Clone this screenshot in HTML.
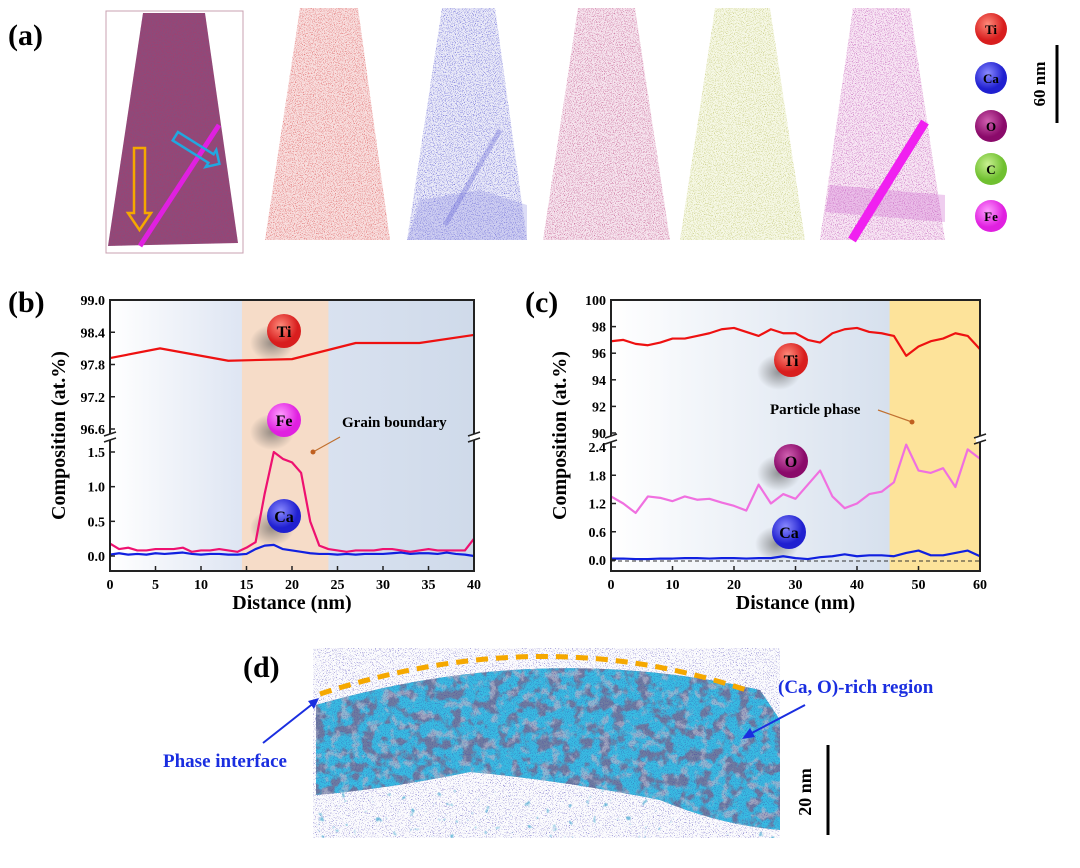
<!DOCTYPE html>
<html><head><meta charset="utf-8">
<style>
body{margin:0;background:#fff;width:1080px;height:863px;overflow:hidden;font-family:"Liberation Serif",serif;}
svg text{font-family:"Liberation Serif",serif;font-weight:bold;}
</style></head>
<body>
<svg width="1080" height="863" viewBox="0 0 1080 863">
<defs>
<filter id="speck" x="0" y="0" width="100%" height="100%">
<feTurbulence type="fractalNoise" baseFrequency="1.1" numOctaves="1" seed="3" result="t"/>
<feColorMatrix in="t" type="matrix" values="0 0 0 0 0  0 0 0 0 0  0 0 0 0 0  0 0 0 5 -2.6" result="a"/>
<feComposite in="SourceGraphic" in2="a" operator="in"/>
</filter>
<filter id="speck2" x="0" y="0" width="100%" height="100%">
<feTurbulence type="fractalNoise" baseFrequency="1.3" numOctaves="1" seed="11" result="t"/>
<feColorMatrix in="t" type="matrix" values="0 0 0 0 0  0 0 0 0 0  0 0 0 0 0  0 0 0 6 -3.6" result="a"/>
<feComposite in="SourceGraphic" in2="a" operator="in"/>
</filter>
<filter id="blot" x="0" y="0" width="100%" height="100%">
<feTurbulence type="fractalNoise" baseFrequency="0.08" numOctaves="3" seed="7" result="t"/>
<feColorMatrix in="t" type="matrix" values="0 0 0 0 0  0 0 0 0 0  0 0 0 0 0  0 0 0 6 -2.1" result="a"/>
<feComposite in="SourceGraphic" in2="a" operator="in"/>
</filter>
<filter id="blot2" x="0" y="0" width="100%" height="100%">
<feTurbulence type="fractalNoise" baseFrequency="0.1" numOctaves="3" seed="21" result="t"/>
<feColorMatrix in="t" type="matrix" values="0 0 0 0 0  0 0 0 0 0  0 0 0 0 0  0 0 0 6 -3.2" result="a"/>
<feComposite in="SourceGraphic" in2="a" operator="in"/>
</filter>
<filter id="blot3" x="0" y="0" width="100%" height="100%">
<feTurbulence type="fractalNoise" baseFrequency="0.12" numOctaves="2" seed="5" result="t"/>
<feColorMatrix in="t" type="matrix" values="0 0 0 0 0  0 0 0 0 0  0 0 0 0 0  0 0 0 8 -5.6" result="a"/>
<feComposite in="SourceGraphic" in2="a" operator="in"/>
</filter>
<radialGradient id="ti" cx="0.4" cy="0.35"><stop offset="0" stop-color="#ff8a7a"/><stop offset="1" stop-color="#d81e1e"/></radialGradient>
<radialGradient id="ca" cx="0.4" cy="0.35"><stop offset="0" stop-color="#8a8aff"/><stop offset="1" stop-color="#2020d0"/></radialGradient>
<radialGradient id="ox" cx="0.4" cy="0.35"><stop offset="0" stop-color="#d060b0"/><stop offset="1" stop-color="#8a0a6a"/></radialGradient>
<radialGradient id="cc" cx="0.4" cy="0.35"><stop offset="0" stop-color="#c8f090"/><stop offset="1" stop-color="#70c030"/></radialGradient>
<radialGradient id="fe" cx="0.4" cy="0.35"><stop offset="0" stop-color="#ff9cff"/><stop offset="1" stop-color="#e020e0"/></radialGradient>
<radialGradient id="sh"><stop offset="0" stop-color="#555" stop-opacity="0.6"/><stop offset="1" stop-color="#555" stop-opacity="0"/></radialGradient>
<linearGradient id="bgb" x1="0" x2="1"><stop offset="0" stop-color="#ffffff"/><stop offset="0.35" stop-color="#dfe6f3"/><stop offset="1" stop-color="#cfdaea"/></linearGradient>
<linearGradient id="bgc" x1="0" x2="1"><stop offset="0" stop-color="#ffffff"/><stop offset="1" stop-color="#c9d6e8"/></linearGradient>
</defs>

<!-- Panel a -->
<text x="8" y="45" font-size="30">(a)</text>
<rect x="106" y="11" width="137" height="242" fill="none" stroke="#c9a0b0" stroke-width="1"/>
<g>
<polygon points="143,13 205,13 238,243 108,246" fill="#8e4a7a"/>
<polygon points="143,13 205,13 238,243 108,246" fill="#c03060" opacity="0.5" filter="url(#speck)"/>
<polygon points="300,8 358,8 390,240 265,240" fill="#f8dede"/>
<polygon points="300,8 358,8 390,240 265,240" fill="#e07070" filter="url(#speck)"/>
<polygon points="442,8 495,8 527,240 407,240" fill="#ebebf8"/>
<polygon points="442,8 495,8 527,240 407,240" fill="#7070d8" filter="url(#speck)"/>
<polygon points="420,200 480,190 527,205 527,240 407,240" fill="#8c8ce0" opacity="0.3"/>
<line x1="500" y1="130" x2="445" y2="225" stroke="#6a6ad8" stroke-width="5" opacity="0.35"/>
<polygon points="578,8 635,8 670,240 543,240" fill="#f6e4ee"/>
<polygon points="578,8 635,8 670,240 543,240" fill="#c86a98" filter="url(#speck)"/>
<polygon points="715,8 770,8 805,240 680,240" fill="#f6f8e6"/>
<polygon points="715,8 770,8 805,240 680,240" fill="#c8cc80" filter="url(#speck)"/>
<polygon points="853,8 910,8 945,240 820,240" fill="#f8e6f4"/>
<polygon points="853,8 910,8 945,240 820,240" fill="#c870c0" filter="url(#speck)"/>
<polygon points="830,185 945,195 945,222 825,212" fill="#d070d0" opacity="0.35"/>
<line x1="925" y1="122" x2="852" y2="240" stroke="#f020f0" stroke-width="9"/>
<line x1="219" y1="125" x2="140" y2="246" stroke="#e020e0" stroke-width="5"/>
<g fill="none" stroke="#f5a800" stroke-width="2.5">
<polygon points="134,148 145,148 145,213 151,213 139.5,230 128,213 134,213"/></g>
<g fill="none" stroke="#20a8e0" stroke-width="2.5" transform="translate(178,132) rotate(32)">
<polygon points="0,0 42,0 42,-5 52,5 42,15 42,10 0,10"/></g>
</g>
<g font-size="13" text-anchor="middle">
<circle cx="991" cy="29" r="16" fill="url(#ti)"/><text x="991" y="34">Ti</text>
<circle cx="991" cy="78" r="16" fill="url(#ca)"/><text x="991" y="83">Ca</text>
<circle cx="991" cy="126" r="16" fill="url(#ox)"/><text x="991" y="131">O</text>
<circle cx="991" cy="169" r="16" fill="url(#cc)"/><text x="991" y="174">C</text>
<circle cx="991" cy="216" r="16" fill="url(#fe)"/><text x="991" y="221">Fe</text>
</g>
<line x1="1057" y1="45" x2="1057" y2="123" stroke="#000" stroke-width="3"/>
<text transform="translate(1045,84) rotate(-90)" font-size="17" text-anchor="middle">60 nm</text>

<!-- Panel b -->
<text x="8" y="312" font-size="30">(b)</text>
<g id="chartb"></g>
<!-- Panel c -->
<text x="525" y="312" font-size="30">(c)</text>
<g id="chartc"></g>

<!-- Panel d -->
<text x="243" y="677" font-size="30">(d)</text>
<g>
<rect x="313" y="648" width="467" height="190" fill="#fbfbfd"/>
<rect x="313" y="648" width="467" height="190" fill="#3a30b0" filter="url(#speck2)"/>
<path d="M316,705 Q540,640 760,690 L780,720 L780,830 Q720,825 660,800 Q560,780 470,772 Q380,790 316,795 Z" fill="#6e7ca0"/>
<path d="M316,705 Q540,640 760,690 L780,720 L780,830 Q720,825 660,800 Q560,780 470,772 Q380,790 316,795 Z" fill="#38bce2" filter="url(#blot)"/>
<path d="M316,705 Q540,640 760,690 L780,720 L780,830 Q720,825 660,800 Q560,780 470,772 Q380,790 316,795 Z" fill="#b4b8cc" opacity="0.7" filter="url(#blot2)"/>
<path d="M316,705 Q540,640 760,690 L780,720 L780,830 Q720,825 660,800 Q560,780 470,772 Q380,790 316,795 Z" fill="#3a2fa0" opacity="0.45" filter="url(#speck)"/>
<rect x="313" y="790" width="467" height="48" fill="#40a8d0" opacity="0.7" filter="url(#blot3)"/>
<path d="M320,694 Q545,620 752,692" fill="none" stroke="#f5a800" stroke-width="5" stroke-dasharray="12,8"/>
</g>
<text x="778" y="693" font-size="19" fill="#1a2ee0">(Ca, O)-rich region</text>
<line x1="805" y1="705" x2="748" y2="735" stroke="#1a2ee0" stroke-width="2"/>
<polygon points="742,739 750,728 755,737" fill="#1a2ee0"/>
<text x="163" y="767" font-size="19" fill="#1a2ee0">Phase interface</text>
<line x1="263" y1="743" x2="315" y2="702" stroke="#1a2ee0" stroke-width="2"/>
<polygon points="319,698 308,701 314,709" fill="#1a2ee0"/>
<line x1="828" y1="745" x2="828" y2="835" stroke="#000" stroke-width="3"/>
<text transform="translate(811,792) rotate(-90)" font-size="18" text-anchor="middle">20 nm</text>
</svg>

<script>
// ---- chart b data ----
const bX = [0,1,2,3,4,5,6,7,8,9,10,11,12,13,14,15,16,17,18,19,20,21,22,23,24,25,26,27,28,29,30,31,32,33,34,35,36,37,38,39,40];
const bFe = [0.18,0.1,0.12,0.08,0.08,0.1,0.1,0.1,0.12,0.06,0.08,0.08,0.1,0.08,0.06,0.12,0.2,0.9,1.5,1.4,1.35,1.2,0.5,0.15,0.1,0.08,0.06,0.08,0.08,0.08,0.1,0.1,0.08,0.06,0.08,0.1,0.08,0.08,0.08,0.08,0.25];
const bCa = [0.02,0.04,0.02,0.03,0.02,0.04,0.03,0.04,0.05,0.03,0.02,0.03,0.03,0.02,0.02,0.03,0.1,0.15,0.16,0.1,0.08,0.06,0.04,0.03,0.03,0.02,0.03,0.02,0.03,0.03,0.03,0.04,0.05,0.03,0.04,0.04,0.03,0.05,0.03,0.02,0.0];
const bTiX = [0,5.5,13,20,27,34,40];
const bTi = [97.92,98.1,97.87,97.9,98.2,98.2,98.35];
const bXTicks = [0,5,10,15,20,25,30,35,40];
const bUpTicks = [96.6,97.2,97.8,98.4,99.0];
const bLoTicks = [0.0,0.5,1.0,1.5];
const bBand = [14.5,24];
// ---- chart c data ----
const cX = [0,2,4,6,8,10,12,14,16,18,20,22,24,26,28,30,32,34,36,38,40,42,44,46,48,50,52,54,56,58,60];
const cTi = [96.9,97.0,96.7,96.6,96.8,97.1,97.1,97.3,97.5,97.8,97.9,97.6,97.3,97.8,97.5,97.5,97.0,96.8,97.5,97.8,97.9,97.6,97.5,97.3,95.8,96.5,96.9,97.1,97.5,97.3,96.3];
const cO = [1.35,1.2,1.0,1.35,1.32,1.25,1.35,1.28,1.3,1.22,1.15,1.05,1.6,1.2,1.4,1.3,1.6,1.9,1.35,1.1,1.2,1.4,1.45,1.65,2.45,1.9,1.85,1.95,1.55,2.35,2.15];
const cCa = [0.03,0.03,0.02,0.02,0.03,0.03,0.04,0.04,0.03,0.04,0.04,0.03,0.04,0.04,0.08,0.04,0.02,0.06,0.08,0.12,0.08,0.1,0.1,0.08,0.15,0.2,0.1,0.1,0.15,0.2,0.08];
const cXTicks = [0,10,20,30,40,50,60];
const cUpTicks = [90,92,94,96,98,100];
const cLoTicks = [0.0,0.6,1.2,1.8,2.4];
const cBand = [45.3,60];

const NS='http://www.w3.org/2000/svg';
function mk(parent,tag,attrs){const e=document.createElementNS(NS,tag);for(const k in attrs)e.setAttribute(k,attrs[k]);parent.appendChild(e);return e;}

function drawChart(g,cfg){
  const sx=v=>cfg.x0+(v-cfg.xmin)/(cfg.xmax-cfg.xmin)*(cfg.x1-cfg.x0);
  const su=v=>cfg.uTop+(cfg.uMax-v)/(cfg.uMax-cfg.uMin)*(cfg.uBot-cfg.uTop);
  const sl=v=>cfg.lZero-(v/cfg.lMax)*(cfg.lZero-cfg.lTopPx);
  const bg=mk(g,'rect',{x:cfg.x0,y:cfg.y0,width:cfg.x1-cfg.x0,height:cfg.y1-cfg.y0,fill:cfg.bgFill});
  
  
  const band=mk(g,'rect',{x:sx(cfg.band[0]),y:cfg.y0,width:sx(cfg.band[1])-sx(cfg.band[0]),height:cfg.y1-cfg.y0,fill:cfg.bandFill});
  
  
  if(cfg.dash){const d=mk(g,'line',{x1:cfg.x0,x2:cfg.x1,y1:sl(-0.02),y2:sl(-0.02),stroke:'#333','stroke-dasharray':'4,3','stroke-width':1});
    
    }
  cfg.balls.forEach(b=>{
    mk(g,'ellipse',{cx:b[0]-12,cy:b[1]+12,rx:22,ry:18,fill:'url(#sh)'});
    const c=mk(g,'circle',{cx:b[0],cy:b[1],r:17,fill:b[2]});
    
    
    const t=mk(g,'text',{x:b[0],y:b[1]+6,'font-size':16,'text-anchor':'middle'});t.textContent=b[3];
  });
  cfg.series.forEach(s=>{
    const pts=s.x.map((v,i)=>sx(v)+','+(s.up?su(s.y[i]):sl(s.y[i]))).join(' ');
    const p=mk(g,'polyline',{points:pts,fill:'none',stroke:s.color,'stroke-width':2.2,'stroke-linejoin':'round'});
    
    
  });
  const f=mk(g,'rect',{x:cfg.x0,y:cfg.y0,width:cfg.x1-cfg.x0,height:cfg.y1-cfg.y0,fill:'none',stroke:'#222','stroke-width':2});
  
  
  [cfg.x0,cfg.x1].forEach(x=>{
    mk(g,'rect',{x:x-4,y:cfg.brk-3,width:8,height:6,fill:'#fff'});
    mk(g,'line',{x1:x-6,y1:cfg.brk-1,x2:x+6,y2:cfg.brk-5,stroke:'#222','stroke-width':1.5});
    mk(g,'line',{x1:x-6,y1:cfg.brk+5,x2:x+6,y2:cfg.brk+1,stroke:'#222','stroke-width':1.5});
  });
  cfg.xt.forEach(v=>{
    mk(g,'line',{x1:sx(v),x2:sx(v),y1:cfg.y1,y2:cfg.y1-5,stroke:'#222','stroke-width':1.5});
    const t=mk(g,'text',{x:sx(v),y:cfg.y1+18,'font-size':14,'text-anchor':'middle'});t.textContent=v;
    
    
  });
  cfg.ut.forEach(v=>{
    mk(g,'line',{x1:cfg.x0,x2:cfg.x0+5,y1:su(v),y2:su(v),stroke:'#222','stroke-width':1.5});
    const t=mk(g,'text',{x:cfg.x0-5,y:su(v)+5,'font-size':14,'text-anchor':'end'});t.textContent=cfg.ufmt(v);
    
    
  });
  cfg.lt.forEach(v=>{
    mk(g,'line',{x1:cfg.x0,x2:cfg.x0+5,y1:sl(v),y2:sl(v),stroke:'#222','stroke-width':1.5});
    const t=mk(g,'text',{x:cfg.x0-5,y:sl(v)+5,'font-size':14,'text-anchor':'end'});t.textContent=v.toFixed(1);
    
    
  });
  const xl=mk(g,'text',{x:(cfg.x0+cfg.x1)/2,y:cfg.y1+38,'font-size':20,'text-anchor':'middle'});xl.textContent='Distance (nm)';
  
  
  const yl=mk(g,'text',{transform:`translate(${cfg.x0-45},${(cfg.y0+cfg.y1)/2}) rotate(-90)`,'font-size':20,'text-anchor':'middle'});yl.textContent='Composition (at.%)';
  
  
  const an=mk(g,'text',{x:cfg.ann[0],y:cfg.ann[1],'font-size':15});an.textContent=cfg.ann[2];
  
  
  mk(g,'line',{x1:cfg.arr[0],y1:cfg.arr[1],x2:cfg.arr[2],y2:cfg.arr[3],stroke:'#c07030','stroke-width':1.2});
  mk(g,'circle',{cx:cfg.arr[2],cy:cfg.arr[3],r:2.5,fill:'#c06020'});
}

drawChart(document.getElementById('chartb'),{
  x0:110,x1:474,y0:300,y1:571,xmin:0,xmax:40,
  uTop:300,uBot:429,uMin:96.6,uMax:99.0,lZero:556,lTopPx:452,lMax:1.5,brk:437,
  bgFill:'url(#bgb)',bandFill:'#f6dcc8',band:bBand,dash:false,
  balls:[[284,331,'url(#ti)','Ti'],[284,420,'url(#fe)','Fe'],[284,516,'url(#ca)','Ca']],
  series:[{x:bTiX,y:bTi,up:true,color:'#ee1111',name:'ti-line'},{x:bX,y:bFe,up:false,color:'#ee1170',name:'fe-line'},{x:bX,y:bCa,up:false,color:'#1020e0',name:'ca-line'}],
  xt:bXTicks,ut:bUpTicks,lt:bLoTicks,ufmt:v=>v.toFixed(1),
  ann:[342,427,'Grain boundary'],arr:[340,437,313,452]
});
drawChart(document.getElementById('chartc'),{
  x0:611,x1:980,y0:300,y1:571,xmin:0,xmax:60,
  uTop:300,uBot:433,uMin:90,uMax:100,lZero:560,lTopPx:447,lMax:2.4,brk:439,
  bgFill:'url(#bgc)',bandFill:'#fde39a',band:cBand,dash:true,
  balls:[[791,360,'url(#ti)','Ti'],[791,461,'url(#ox)','O'],[789,532,'url(#ca)','Ca']],
  series:[{x:cX,y:cTi,up:true,color:'#ee1111',name:'ti-line'},{x:cX,y:cO,up:false,color:'#f070e0',name:'o-line'},{x:cX,y:cCa,up:false,color:'#1020e0',name:'ca-line'}],
  xt:cXTicks,ut:cUpTicks,lt:cLoTicks,ufmt:v=>String(v),
  ann:[770,414,'Particle phase'],arr:[878,410,912,422]
});
</script>
</body></html>
